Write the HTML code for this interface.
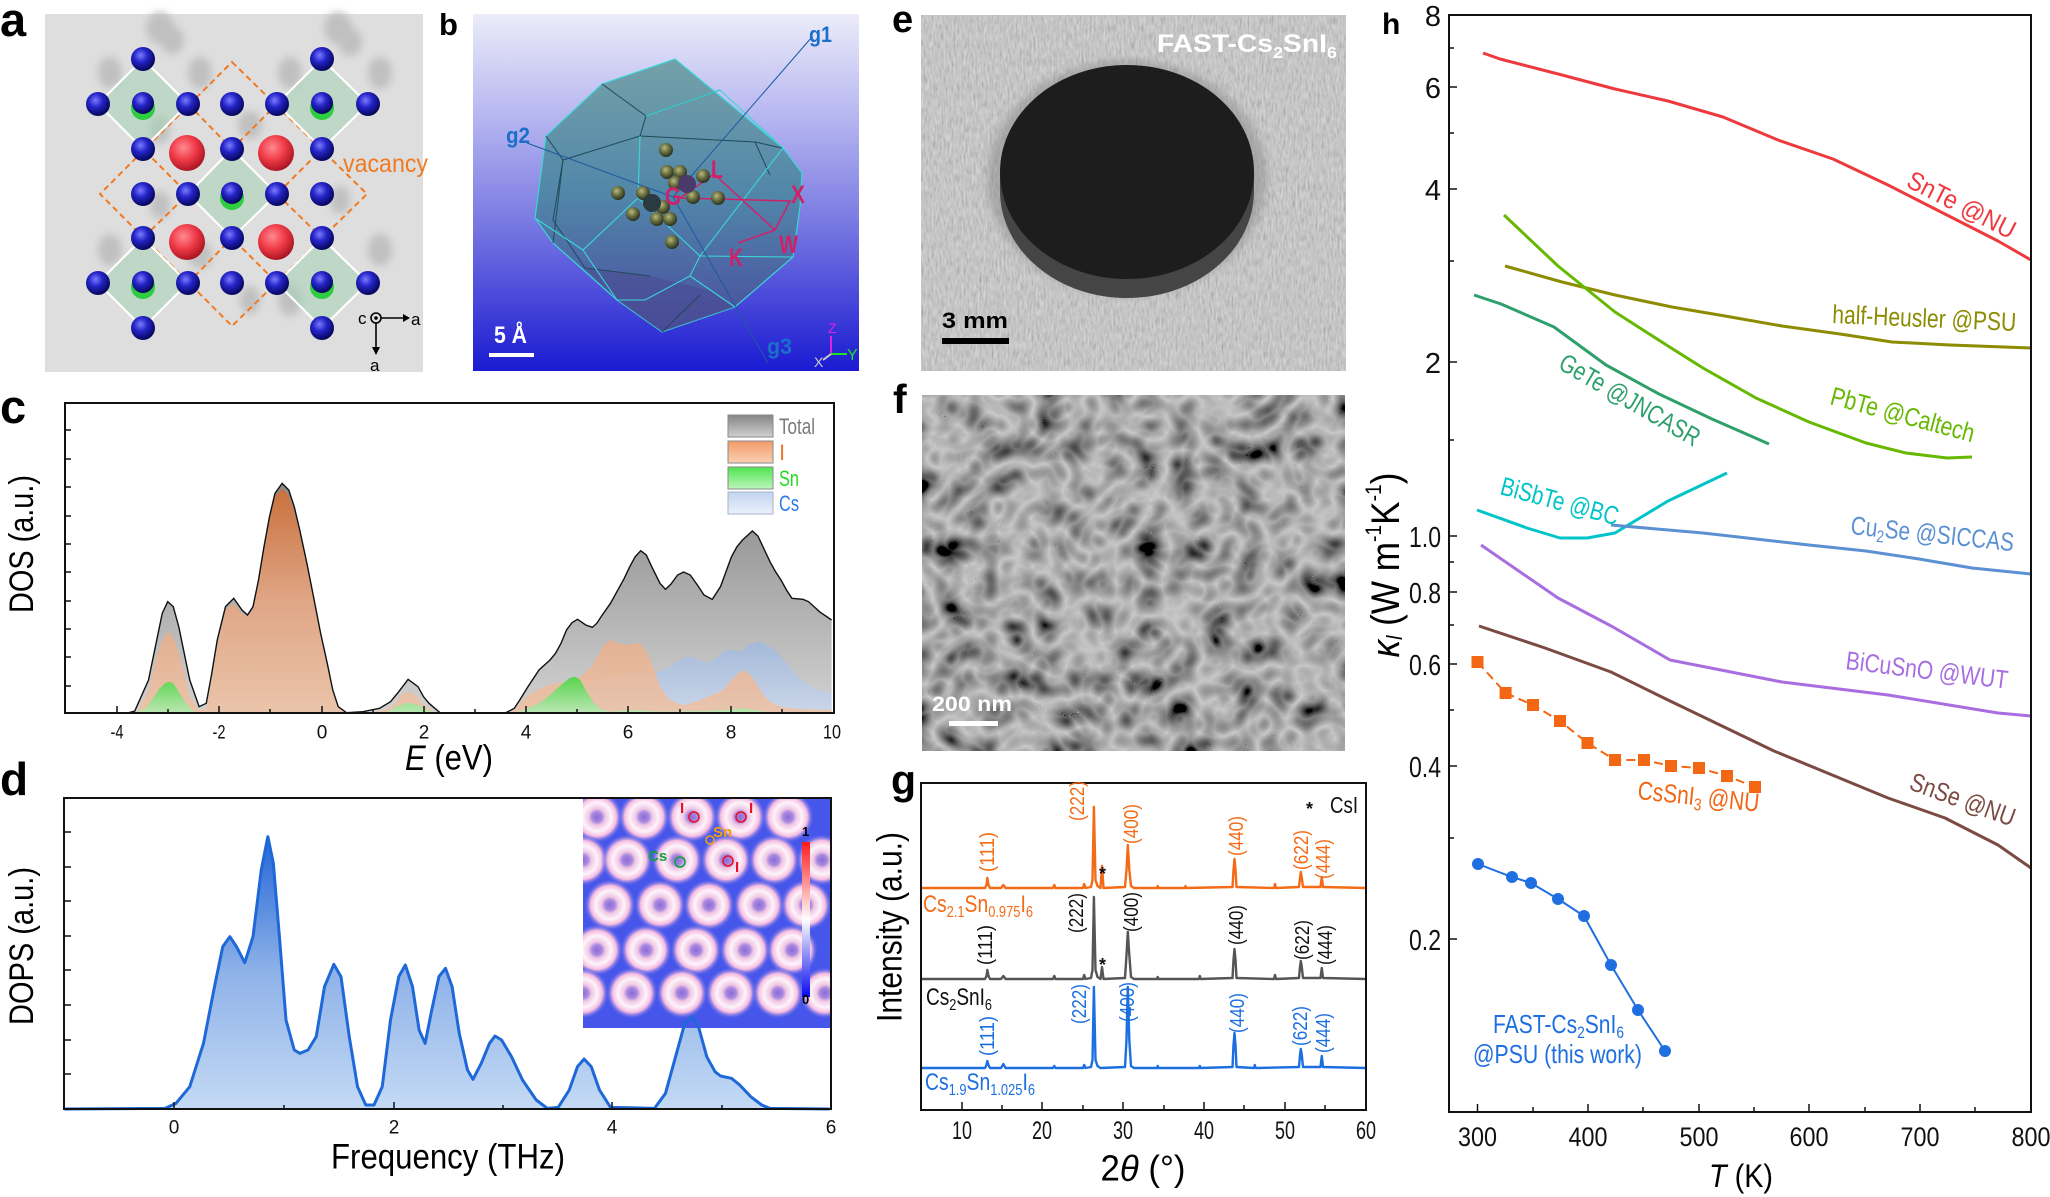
<!DOCTYPE html>
<html><head><meta charset="utf-8"><style>
html,body{margin:0;padding:0;background:#fff;}
svg{display:block;}
text{font-family:"Liberation Sans",sans-serif;}
</style></head><body>
<svg width="2050" height="1197" viewBox="0 0 2050 1197" xmlns="http://www.w3.org/2000/svg">
<defs>
<linearGradient id="bgB" x1="0" y1="0" x2="0" y2="1"><stop offset="0" stop-color="#ececfa"/><stop offset="0.3" stop-color="#b4b4f0"/><stop offset="0.6" stop-color="#7676e2"/><stop offset="1" stop-color="#1a1ad2"/></linearGradient>
<linearGradient id="poly" x1="0" y1="0" x2="0" y2="1"><stop offset="0" stop-color="#6f9ea4"/><stop offset="0.5" stop-color="#4e86a6"/><stop offset="1" stop-color="#4a4e9c"/></linearGradient>
<linearGradient id="gTot" x1="0" y1="0" x2="0" y2="1"><stop offset="0" stop-color="#8a8a8a"/><stop offset="1" stop-color="#d2d2d2"/></linearGradient>
<linearGradient id="gI" x1="0" y1="0" x2="0" y2="1"><stop offset="0" stop-color="#d46c30"/><stop offset="0.5" stop-color="#e8a47e"/><stop offset="1" stop-color="#efc2a4"/></linearGradient>
<linearGradient id="gSn" x1="0" y1="0" x2="0" y2="1"><stop offset="0" stop-color="#3ed83e"/><stop offset="1" stop-color="#b4ecb4"/></linearGradient>
<linearGradient id="gCs" x1="0" y1="0" x2="0" y2="1"><stop offset="0" stop-color="#9cb8e4"/><stop offset="1" stop-color="#c8d8f0"/></linearGradient>
<linearGradient id="gD" x1="0" y1="0" x2="0" y2="1"><stop offset="0" stop-color="#2266d8"/><stop offset="0.5" stop-color="#8fb2e8"/><stop offset="1" stop-color="#c4daf5"/></linearGradient>
<linearGradient id="lgT" x1="0" y1="0" x2="0" y2="1"><stop offset="0" stop-color="#858585"/><stop offset="1" stop-color="#d0d0d0"/></linearGradient>
<linearGradient id="lgI" x1="0" y1="0" x2="0" y2="1"><stop offset="0" stop-color="#f49a68"/><stop offset="1" stop-color="#f8d0b4"/></linearGradient>
<linearGradient id="lgS" x1="0" y1="0" x2="0" y2="1"><stop offset="0" stop-color="#4ee44e"/><stop offset="1" stop-color="#bcf6bc"/></linearGradient>
<linearGradient id="lgC" x1="0" y1="0" x2="0" y2="1"><stop offset="0" stop-color="#c2d4f0"/><stop offset="1" stop-color="#eaf1fc"/></linearGradient>
<linearGradient id="cbar" x1="0" y1="0" x2="0" y2="1"><stop offset="0" stop-color="#ff1a1a"/><stop offset="0.5" stop-color="#ffffff"/><stop offset="1" stop-color="#0808f0"/></linearGradient>
<radialGradient id="aB" cx="0.4" cy="0.35" r="0.65"><stop offset="0" stop-color="#7b7bff"/><stop offset="0.45" stop-color="#2424c8"/><stop offset="1" stop-color="#06065a"/></radialGradient>
<radialGradient id="aR" cx="0.4" cy="0.35" r="0.7"><stop offset="0" stop-color="#ff8a90"/><stop offset="0.5" stop-color="#f03a48"/><stop offset="1" stop-color="#a0101c"/></radialGradient>
<radialGradient id="aBall" cx="0.4" cy="0.35" r="0.65"><stop offset="0" stop-color="#b8b880"/><stop offset="0.5" stop-color="#6a7040"/><stop offset="1" stop-color="#2a3020"/></radialGradient>
<radialGradient id="blob" cx="0.5" cy="0.5" r="0.5"><stop offset="0" stop-color="#8c6ad6"/><stop offset="0.2" stop-color="#a98ae0"/><stop offset="0.32" stop-color="#f0c6e4"/><stop offset="0.55" stop-color="#fdf4fb"/><stop offset="0.75" stop-color="#f6bce0"/><stop offset="1" stop-color="#4c5cec" stop-opacity="0"/></radialGradient>
<filter id="blur4" x="-50%" y="-50%" width="200%" height="200%"><feGaussianBlur stdDeviation="4"/></filter>
<filter id="paper" x="0" y="0" width="100%" height="100%"><feTurbulence type="fractalNoise" baseFrequency="0.5 0.12" numOctaves="2" seed="5"/><feColorMatrix type="matrix" values="0.7 0.7 0.7 0 -0.35  0.7 0.7 0.7 0 -0.35  0.7 0.7 0.7 0 -0.35  0 0 0 0 0.35"/></filter>
<filter id="sem" x="0" y="0" width="100%" height="100%"><feTurbulence type="turbulence" baseFrequency="0.03" numOctaves="2" seed="8"/><feColorMatrix type="matrix" values="-0.9 0 0 0 0.58  -0.9 0 0 0 0.58  -0.9 0 0 0 0.58  0 0 0 0 1"/></filter>
<clipPath id="clipInset"><rect x="583" y="798" width="248" height="230"/></clipPath>
<clipPath id="clipB"><rect x="473" y="14" width="386" height="357"/></clipPath>
</defs>

<!-- ================= PANEL LETTERS ================= -->
<g font-weight="bold" fill="#000">
<text x="0" y="36" font-size="47">a</text>
<text x="439" y="35" font-size="31">b</text>
<text x="0" y="423" font-size="47">c</text>
<text x="0" y="795" font-size="46">d</text>
<text x="892" y="32" font-size="38">e</text>
<text x="893" y="413" font-size="41">f</text>
<text x="891" y="794" font-size="41">g</text>
<text x="1382" y="34" font-size="30">h</text>
</g>

<!-- ================= PANEL A ================= -->
<rect x="45" y="14" width="378" height="358" fill="#dedede"/>
<g fill="#bdbdbd" filter="url(#blur4)" opacity="0.9">
<ellipse cx="160" cy="28" rx="14" ry="16"/><ellipse cx="172" cy="40" rx="12" ry="14"/>
<ellipse cx="338" cy="28" rx="14" ry="16"/><ellipse cx="350" cy="42" rx="12" ry="14"/>
<ellipse cx="110" cy="73" rx="12" ry="16"/><ellipse cx="200" cy="73" rx="12" ry="16"/>
<ellipse cx="290" cy="73" rx="12" ry="16"/><ellipse cx="380" cy="73" rx="12" ry="16"/>
<ellipse cx="160" cy="130" rx="10" ry="14"/><ellipse cx="250" cy="125" rx="12" ry="14"/>
<ellipse cx="340" cy="200" rx="10" ry="14"/><ellipse cx="160" cy="205" rx="10" ry="14"/>
<ellipse cx="110" cy="250" rx="12" ry="16"/><ellipse cx="200" cy="255" rx="12" ry="14"/>
<ellipse cx="290" cy="300" rx="12" ry="16"/><ellipse cx="380" cy="250" rx="12" ry="16"/>
<ellipse cx="250" cy="300" rx="10" ry="14"/>
</g>
<g fill="none" stroke="#f07a22" stroke-width="2" stroke-dasharray="6,4">
<polygon points="232,62 367,194 232,326 100,194"/>
<polygon points="188,104 232,149 188,194 143,149"/>
<polygon points="277,104 322,149 277,194 232,149"/>
<polygon points="188,194 232,238 188,283 143,238"/>
<polygon points="277,194 322,238 277,283 232,238"/>
</g>
<g fill="#a8d2b6" fill-opacity="0.6" stroke="#fff" stroke-width="2.2">
<polygon points="143,59 188,104 143,149 98,104"/>
<polygon points="322,59 368,104 322,149 277,104"/>
<polygon points="232,149 277,194 232,238 188,194"/>
<polygon points="143,238 188,283 143,328 98,283"/>
<polygon points="322,238 368,283 322,328 277,283"/>
</g>
<g fill="#2ecc40">
<circle cx="143" cy="108" r="12"/><circle cx="322" cy="108" r="12"/><circle cx="232" cy="198" r="12"/><circle cx="143" cy="287" r="12"/><circle cx="322" cy="287" r="12"/>
</g>
<g fill="url(#aR)">
<circle cx="187" cy="153" r="18"/><circle cx="276" cy="153" r="18"/><circle cx="187" cy="242" r="18"/><circle cx="276" cy="242" r="18"/>
</g>
<g fill="url(#aB)">
<circle cx="143" cy="59" r="12"/><circle cx="322" cy="59" r="12"/>
<circle cx="98" cy="104" r="12"/><circle cx="143" cy="103" r="11"/><circle cx="188" cy="104" r="12"/><circle cx="232" cy="104" r="12"/><circle cx="277" cy="104" r="12"/><circle cx="322" cy="103" r="11"/><circle cx="368" cy="104" r="12"/>
<circle cx="143" cy="149" r="12"/><circle cx="232" cy="149" r="12"/><circle cx="322" cy="149" r="12"/>
<circle cx="143" cy="194" r="12"/><circle cx="188" cy="194" r="12"/><circle cx="232" cy="193" r="11"/><circle cx="277" cy="194" r="12"/><circle cx="322" cy="194" r="12"/>
<circle cx="143" cy="238" r="12"/><circle cx="232" cy="238" r="12"/><circle cx="322" cy="238" r="12"/>
<circle cx="98" cy="283" r="12"/><circle cx="143" cy="282" r="11"/><circle cx="188" cy="283" r="12"/><circle cx="232" cy="283" r="12"/><circle cx="277" cy="283" r="12"/><circle cx="322" cy="282" r="11"/><circle cx="368" cy="283" r="12"/>
<circle cx="143" cy="328" r="12"/><circle cx="322" cy="328" r="12"/>
</g>
<text x="343" y="172" font-size="25" fill="#f07a22" textLength="85" lengthAdjust="spacingAndGlyphs">vacancy</text>
<g stroke="#000" stroke-width="1.6" fill="none">
<circle cx="376" cy="318" r="5"/><line x1="381" y1="318" x2="403" y2="318"/><line x1="376" y1="323" x2="376" y2="348"/>
</g>
<circle cx="376" cy="318" r="1.8" fill="#000"/>
<polygon points="403,314 410,318 403,322" fill="#000"/><polygon points="372,347 376,355 380,347" fill="#000"/>
<text x="358" y="324" font-size="17">c</text><text x="411" y="325" font-size="17">a</text><text x="370" y="371" font-size="17">a</text>

<!-- ================= PANEL B ================= -->
<rect x="473" y="14" width="386" height="357" fill="url(#bgB)"/>
<g clip-path="url(#clipB)">
<polygon points="675,59 783,148 802,173 800,207 793,257 735,307 662,332 617,300 553,243 535,218 546,136 602,84" fill="url(#poly)" fill-opacity="0.95" stroke="#3ad6d6" stroke-width="1.2"/>
<polygon points="617,300 662,332 735,307 708,290 650,276 585,268" fill="#4a4890" fill-opacity="0.5"/>
<g stroke="#1f4a5a" stroke-width="1" fill="none">
<polyline points="602,84 646,116 720,90"/><polyline points="646,116 640,136 563,160 546,136"/>
<polyline points="563,160 553,243"/><polyline points="640,136 755,142 782,148"/>
<polyline points="755,142 770,175"/><polyline points="563,160 553,220 585,268 650,276"/>
<polyline points="700,295 662,332"/>
</g>
<g stroke="#3ad6d6" stroke-width="1.1" fill="none">
<polyline points="646,116 720,90 783,148"/><polyline points="640,136 638,198 583,250 535,218"/>
<polyline points="638,198 700,256 783,148"/><polyline points="700,256 690,276 645,300 617,300"/>
<polyline points="583,250 617,300"/><polyline points="690,276 735,307"/>
<polyline points="700,256 793,257"/>
</g>
<g stroke="#1e5aa0" stroke-width="1" fill="none">
<line x1="673" y1="197" x2="812" y2="37"/><line x1="673" y1="197" x2="527" y2="143"/><line x1="673" y1="197" x2="768" y2="363"/>
</g>
<g stroke="#d0206a" stroke-width="1.5" fill="none">
<polyline points="680,198 790,201 775,230 738,243"/><line x1="680" y1="198" x2="714" y2="174"/><line x1="714" y1="174" x2="775" y2="230"/>
</g>
<g fill="url(#aBall)">
<circle cx="666" cy="150" r="7"/><circle cx="667" cy="172" r="7"/><circle cx="680" cy="172" r="7"/><circle cx="703" cy="176" r="7"/>
<circle cx="675" cy="183" r="7"/><circle cx="693" cy="197" r="7"/><circle cx="718" cy="198" r="7"/><circle cx="618" cy="193" r="7"/>
<circle cx="643" cy="193" r="7"/><circle cx="663" cy="207" r="7"/><circle cx="633" cy="214" r="7"/><circle cx="657" cy="219" r="7"/>
<circle cx="670" cy="219" r="7"/><circle cx="672" cy="242" r="7"/>
</g>
<circle cx="687" cy="184" r="9" fill="#4a3a6a"/><circle cx="652" cy="203" r="9" fill="#2a3a40"/>
</g>
<g font-weight="bold" fill="#d0206a" font-size="25">
<text x="711" y="178" textLength="12" lengthAdjust="spacingAndGlyphs">L</text>
<text x="665" y="205" textLength="16" lengthAdjust="spacingAndGlyphs">G</text>
<text x="791" y="203" textLength="14" lengthAdjust="spacingAndGlyphs">X</text>
<text x="779" y="253" textLength="19" lengthAdjust="spacingAndGlyphs">W</text>
<text x="729" y="266" textLength="14" lengthAdjust="spacingAndGlyphs">K</text>
</g>
<g font-weight="bold" fill="#1a70c8" font-size="22">
<text x="809" y="42" textLength="23" lengthAdjust="spacingAndGlyphs">g1</text>
<text x="506" y="143" textLength="24" lengthAdjust="spacingAndGlyphs">g2</text>
<text x="767" y="354" textLength="25" lengthAdjust="spacingAndGlyphs">g3</text>
</g>
<text x="494" y="343" font-size="24" font-weight="bold" fill="#fff" textLength="33" lengthAdjust="spacingAndGlyphs">5 Å</text>
<rect x="489" y="353" width="45" height="4" fill="#fff"/>
<line x1="831" y1="354" x2="831" y2="336" stroke="#e020e0" stroke-width="2"/>
<line x1="831" y1="354" x2="847" y2="354" stroke="#20e020" stroke-width="2"/>
<line x1="831" y1="354" x2="823" y2="360" stroke="#ccc" stroke-width="2"/>
<text x="828" y="333" font-size="14" fill="#e020e0">Z</text>
<text x="847" y="360" font-size="16" fill="#20e020">Y</text>
<text x="814" y="367" font-size="14" fill="#ccc">X</text>

<!-- ================= PANEL C ================= -->
<g transform="translate(0,380) scale(0.55,0.33333)">
<polygon fill="url(#gTot)" points="118,1000 230,1000 245,993 270,900 285,780 295,700 305,665 315,680 325,740 345,900 362,980 375,970 385,880 395,780 410,680 425,655 440,690 450,705 460,680 470,600 480,500 490,410 500,340 513,310 525,330 535,380 545,450 558,550 570,650 583,760 595,850 605,930 615,980 630,998 660,995 690,985 710,965 725,935 742,898 760,920 770,950 780,970 800,998 860,1000 920,998 935,985 945,960 960,920 980,870 1000,840 1010,820 1020,790 1030,750 1040,728 1050,718 1065,735 1077,742 1085,730 1095,705 1110,670 1120,640 1135,595 1145,560 1155,530 1165,512 1175,525 1185,560 1200,610 1210,628 1220,612 1232,585 1243,576 1255,585 1268,615 1280,645 1295,658 1310,620 1320,575 1330,530 1340,500 1350,480 1368,453 1378,468 1390,510 1400,545 1410,575 1420,600 1430,630 1440,655 1460,658 1470,665 1480,680 1490,695 1512,720 1512,1000"/>
<polygon fill="url(#gCs)" fill-opacity="0.75" points="940,1000 960,985 990,965 1020,945 1050,925 1080,905 1100,895 1130,885 1150,880 1180,885 1200,875 1220,858 1240,835 1255,830 1270,840 1285,848 1300,838 1315,815 1328,808 1345,815 1362,795 1380,785 1395,795 1410,810 1425,840 1440,870 1460,905 1480,925 1500,935 1512,940 1512,1000"/>
<polygon fill="url(#gI)" fill-opacity="0.85" points="230,1000 250,995 270,930 285,830 295,780 307,752 320,790 335,880 345,950 362,990 375,985 385,900 395,800 410,690 425,670 440,700 450,710 460,690 470,610 480,515 490,420 500,350 513,325 525,345 535,395 545,460 558,560 570,660 583,770 595,860 605,935 615,985 630,1000 680,998 700,990 715,975 730,945 742,935 755,945 770,975 790,996 800,1000 920,1000 935,990 950,960 970,935 990,920 1010,910 1030,905 1050,895 1060,885 1075,860 1090,820 1100,790 1112,780 1125,790 1140,795 1155,790 1165,790 1175,815 1185,850 1200,920 1215,955 1230,970 1245,975 1265,965 1280,955 1295,945 1310,935 1320,920 1335,890 1350,870 1362,880 1375,910 1390,950 1405,970 1420,980 1440,985 1470,988 1512,990 1512,1000"/>
<polygon fill="url(#gSn)" fill-opacity="0.85" points="245,1000 265,985 280,950 290,925 300,910 307,905 315,910 325,935 340,975 355,998 365,1000 690,1000 705,995 720,980 742,968 760,975 780,992 795,1000 930,1000 945,995 960,985 980,970 1000,945 1020,915 1035,895 1045,890 1055,900 1065,930 1080,970 1095,990 1110,995 1150,990 1200,995 1280,993 1320,990 1350,985 1365,988 1390,995 1420,997 1512,997 1512,1000"/>
<polyline fill="none" stroke="#111" stroke-width="1.4" vector-effect="non-scaling-stroke" points="118,1000 230,1000 245,993 270,900 285,780 295,700 305,665 315,680 325,740 345,900 362,980 375,970 385,880 395,780 410,680 425,655 440,690 450,705 460,680 470,600 480,500 490,410 500,340 513,310 525,330 535,380 545,450 558,550 570,650 583,760 595,850 605,930 615,980 630,998 660,995 690,985 710,965 725,935 742,898 760,920 770,950 780,970 800,998 860,1000 920,998 935,985 945,960 960,920 980,870 1000,840 1010,820 1020,790 1030,750 1040,728 1050,718 1065,735 1077,742 1085,730 1095,705 1110,670 1120,640 1135,595 1145,560 1155,530 1165,512 1175,525 1185,560 1200,610 1210,628 1220,612 1232,585 1243,576 1255,585 1268,615 1280,645 1295,658 1310,620 1320,575 1330,530 1340,500 1350,480 1368,453 1378,468 1390,510 1400,545 1410,575 1420,600 1430,630 1440,655 1460,658 1470,665 1480,680 1490,695 1512,720"/>
</g>
<rect x="65" y="403" width="769" height="310" fill="none" stroke="#111" stroke-width="2"/>
<g stroke="#111" stroke-width="1.5">
<line x1="65" y1="430" x2="71" y2="430"/><line x1="65" y1="459" x2="71" y2="459"/><line x1="65" y1="487" x2="71" y2="487"/><line x1="65" y1="516" x2="71" y2="516"/><line x1="65" y1="544" x2="71" y2="544"/><line x1="65" y1="572" x2="71" y2="572"/><line x1="65" y1="601" x2="71" y2="601"/><line x1="65" y1="629" x2="71" y2="629"/><line x1="65" y1="657" x2="71" y2="657"/><line x1="65" y1="686" x2="71" y2="686"/>
<line x1="117" y1="713" x2="117" y2="706"/><line x1="219" y1="713" x2="219" y2="706"/><line x1="322" y1="713" x2="322" y2="706"/><line x1="424" y1="713" x2="424" y2="706"/><line x1="526" y1="713" x2="526" y2="706"/><line x1="628" y1="713" x2="628" y2="706"/><line x1="731" y1="713" x2="731" y2="706"/>
<line x1="168" y1="713" x2="168" y2="709"/><line x1="270" y1="713" x2="270" y2="709"/><line x1="373" y1="713" x2="373" y2="709"/><line x1="475" y1="713" x2="475" y2="709"/><line x1="577" y1="713" x2="577" y2="709"/><line x1="680" y1="713" x2="680" y2="709"/><line x1="782" y1="713" x2="782" y2="709"/>
</g>
<g font-size="19" text-anchor="middle" dominant-baseline="central" fill="#111">
<text x="117" y="733" textLength="13" lengthAdjust="spacingAndGlyphs">-4</text>
<text x="219" y="733" textLength="13" lengthAdjust="spacingAndGlyphs">-2</text>
<text x="322" y="733">0</text><text x="424" y="733">2</text><text x="526" y="733">4</text><text x="628" y="733">6</text><text x="731" y="733">8</text>
<text x="832" y="733" textLength="18" lengthAdjust="spacingAndGlyphs">10</text>
</g>
<text x="449" y="758" font-size="35" text-anchor="middle" dominant-baseline="central" textLength="88" lengthAdjust="spacingAndGlyphs"><tspan font-style="italic">E</tspan> (eV)</text>
<text transform="translate(22,544) rotate(-90)" font-size="34" text-anchor="middle" dominant-baseline="central" textLength="138" lengthAdjust="spacingAndGlyphs">DOS (a.u.)</text>
<rect x="728" y="415" width="45" height="22" fill="url(#lgT)" stroke="#8a8a8a" stroke-width="1"/>
<rect x="728" y="441" width="45" height="22" fill="url(#lgI)" stroke="#8a8a8a" stroke-width="1"/>
<rect x="728" y="467" width="45" height="22" fill="url(#lgS)" stroke="#8a8a8a" stroke-width="1"/>
<rect x="728" y="492" width="45" height="22" fill="url(#lgC)" stroke="#a8b4c8" stroke-width="1"/>
<g font-size="22">
<text x="779" y="434" fill="#7a7a7a" textLength="36" lengthAdjust="spacingAndGlyphs">Total</text>
<text x="779" y="460" fill="#f07a30">I</text>
<text x="779" y="486" fill="#22dd22" textLength="20" lengthAdjust="spacingAndGlyphs">Sn</text>
<text x="779" y="511" fill="#2a7ae8" textLength="20" lengthAdjust="spacingAndGlyphs">Cs</text>
</g>

<!-- ================= PANEL D ================= -->
<g transform="translate(0,770) scale(0.55,0.33333)">
<polygon fill="url(#gD)" points="117,1017 300,1015 320,1000 345,950 370,820 390,650 405,530 418,500 430,530 445,578 460,500 475,300 487,200 497,280 508,500 520,750 535,840 545,850 560,840 575,800 590,650 607,583 620,620 635,800 650,950 665,1005 680,1005 695,950 710,750 725,620 737,585 750,650 762,780 773,820 785,720 798,620 810,595 822,650 835,790 850,900 860,928 875,880 890,820 900,798 912,810 930,860 950,930 975,990 995,1015 1015,1012 1035,960 1050,890 1062,867 1075,890 1090,960 1110,1012 1190,1015 1210,970 1230,850 1245,760 1258,740 1270,770 1285,860 1300,905 1310,918 1330,925 1345,945 1365,980 1385,1005 1400,1015 1508,1017"/>
</g>
<g clip-path="url(#clipInset)">
<rect x="583" y="798" width="248" height="230" fill="#4656ea"/>
<g fill="url(#blob)">
<circle cx="597" cy="817" r="26"/><circle cx="644" cy="817" r="26"/><circle cx="692" cy="817" r="26"/><circle cx="740" cy="817" r="26"/><circle cx="788" cy="817" r="26"/>
<circle cx="583" cy="860" r="26"/><circle cx="627" cy="860" r="26"/><circle cx="677" cy="860" r="26"/><circle cx="726" cy="860" r="26"/><circle cx="774" cy="860" r="26"/><circle cx="822" cy="860" r="26"/>
<circle cx="610" cy="905" r="26"/><circle cx="660" cy="905" r="26"/><circle cx="709" cy="905" r="26"/><circle cx="759" cy="905" r="26"/><circle cx="806" cy="905" r="26"/>
<circle cx="597" cy="950" r="26"/><circle cx="646" cy="950" r="26"/><circle cx="696" cy="950" r="26"/><circle cx="745" cy="950" r="26"/><circle cx="792" cy="950" r="26"/>
<circle cx="583" cy="993" r="26"/><circle cx="632" cy="993" r="26"/><circle cx="682" cy="993" r="26"/><circle cx="731" cy="993" r="26"/><circle cx="778" cy="993" r="26"/><circle cx="825" cy="993" r="26"/>
</g>
<rect x="802" y="842" width="8" height="155" fill="url(#cbar)"/>
<g fill="none" stroke-width="1.6">
<circle cx="694" cy="817" r="5" stroke="#e8102a"/><circle cx="741" cy="817" r="5" stroke="#e8102a"/>
<circle cx="728" cy="861" r="5" stroke="#e8102a"/><circle cx="710" cy="840" r="4" stroke="#f0a010"/><circle cx="680" cy="862" r="5" stroke="#10a040"/>
</g>
<g font-weight="bold" font-size="15">
<text x="680" y="813" fill="#e8102a">I</text><text x="749" y="813" fill="#e8102a">I</text><text x="735" y="872" fill="#e8102a">I</text>
<text x="713" y="837" fill="#f0a010">Sn</text><text x="648" y="861" fill="#10a040">Cs</text>
<text x="802" y="836" font-size="13" fill="#000">1</text><text x="802" y="1004" font-size="13" fill="#000">0</text>
</g>
</g>
<g transform="translate(0,770) scale(0.55,0.33333)">
<polyline fill="none" stroke="#1f68d8" stroke-width="3" stroke-linejoin="round" vector-effect="non-scaling-stroke" points="117,1017 300,1015 320,1000 345,950 370,820 390,650 405,530 418,500 430,530 445,578 460,500 475,300 487,200 497,280 508,500 520,750 535,840 545,850 560,840 575,800 590,650 607,583 620,620 635,800 650,950 665,1005 680,1005 695,950 710,750 725,620 737,585 750,650 762,780 773,820 785,720 798,620 810,595 822,650 835,790 850,900 860,928 875,880 890,820 900,798 912,810 930,860 950,930 975,990 995,1015 1015,1012 1035,960 1050,890 1062,867 1075,890 1090,960 1110,1012 1190,1015 1210,970 1230,850 1245,760 1258,740 1270,770 1285,860 1300,905 1310,918 1330,925 1345,945 1365,980 1385,1005 1400,1015 1508,1017"/>
</g>
<rect x="64" y="798" width="767" height="311" fill="none" stroke="#111" stroke-width="2"/>
<g stroke="#111" stroke-width="1.5">
<line x1="64" y1="832" x2="71" y2="832"/><line x1="64" y1="867" x2="71" y2="867"/><line x1="64" y1="901" x2="71" y2="901"/><line x1="64" y1="936" x2="71" y2="936"/><line x1="64" y1="970" x2="71" y2="970"/><line x1="64" y1="1005" x2="71" y2="1005"/><line x1="64" y1="1040" x2="71" y2="1040"/><line x1="64" y1="1074" x2="71" y2="1074"/>
<line x1="174" y1="1109" x2="174" y2="1102"/><line x1="394" y1="1109" x2="394" y2="1102"/><line x1="612" y1="1109" x2="612" y2="1102"/>
<line x1="284" y1="1109" x2="284" y2="1105"/><line x1="503" y1="1109" x2="503" y2="1105"/><line x1="722" y1="1109" x2="722" y2="1105"/>
</g>
<g font-size="19" text-anchor="middle" dominant-baseline="central" fill="#111">
<text x="174" y="1128">0</text><text x="394" y="1128">2</text><text x="612" y="1128">4</text><text x="831" y="1128">6</text>
</g>
<text x="448" y="1157" font-size="35" text-anchor="middle" dominant-baseline="central" textLength="234" lengthAdjust="spacingAndGlyphs">Frequency (THz)</text>
<text transform="translate(22,946) rotate(-90)" font-size="34" text-anchor="middle" dominant-baseline="central" textLength="158" lengthAdjust="spacingAndGlyphs">DOPS (a.u.)</text>

<!-- ================= PANEL E ================= -->
<rect x="921" y="15" width="425" height="356" fill="#b9b9b9"/>
<rect x="921" y="15" width="425" height="356" filter="url(#paper)"/>
<ellipse cx="1127" cy="178" rx="140" ry="118" fill="#8a8a8a" opacity="0.5" filter="url(#blur4)"/>
<ellipse cx="1127" cy="191" rx="127" ry="107" fill="#454545"/>
<rect x="1000" y="172" width="254" height="19" fill="#454545"/>
<ellipse cx="1127" cy="172" rx="127" ry="107" fill="#1d1d1d"/>
<text x="1157" y="52" font-size="25" font-weight="bold" fill="#fff" textLength="180" lengthAdjust="spacingAndGlyphs">FAST-Cs<tspan font-size="16" dy="6">2</tspan><tspan dy="-6">SnI</tspan><tspan font-size="16" dy="6">6</tspan></text>
<text x="942" y="328" font-size="22" font-weight="bold" fill="#000" textLength="66" lengthAdjust="spacingAndGlyphs">3 mm</text>
<rect x="942" y="338" width="67" height="6" fill="#000"/>

<!-- ================= PANEL F ================= -->
<rect x="922" y="395" width="423" height="356" fill="#777"/>
<rect x="922" y="395" width="423" height="356" filter="url(#sem)"/>
<text x="932" y="711" font-size="21" font-weight="bold" fill="#fff" textLength="80" lengthAdjust="spacingAndGlyphs">200 nm</text>
<rect x="949" y="721" width="49" height="5" fill="#fff"/>

<!-- ================= PANEL G ================= -->
<g fill="none" stroke-width="2.4" stroke-linejoin="round">
<path stroke="#f36b16" d="M921,888 L985,888 L986.5,885 L987.3,878 L988.5,885 L990,888 L1001,888 L1003.4,885 L1005.5,888 L1053,888 L1054.3,885 L1055.5,888 L1083,888 L1084.2,884 L1085.5,888 L1091,887 L1092.5,880 L1093.9,807 L1095.5,880 L1097.5,886 L1100.5,888 L1102,866 L1103.5,888 L1125,887 L1126.5,870 L1127.8,845 L1129.3,870 L1131,886 L1134,888 L1157,888 L1157.7,886 L1158.5,888 L1185,888 L1185.5,886 L1186,888 L1232.5,887 L1233.5,870 L1234.5,859 L1235.5,870 L1236.5,887 L1274,888 L1275,884 L1276,888 L1299,887 L1300,878 L1300.8,872 L1301.8,878 L1303,887 L1320.5,887 L1321.8,877 L1323,887 L1366,888"/>
<path stroke="#555" d="M921,979 L985,979 L986.5,976 L987.3,970 L988.5,976 L990,979 L1001,979 L1003.4,976 L1005.5,979 L1053,979 L1054.3,976 L1055.5,979 L1083,979 L1084.2,975 L1085.5,979 L1091,978 L1092.5,970 L1093.9,897 L1095.5,970 L1097.5,977 L1100.5,979 L1102,967 L1103.5,979 L1125,978 L1126.5,955 L1127.8,932 L1129.3,955 L1131,977 L1134,979 L1157,979 L1157.7,977 L1158.5,979 L1199,979 L1199.8,976 L1200.6,979 L1232.5,978 L1233.5,960 L1234.5,949 L1235.5,960 L1236.5,978 L1274,979 L1275,975 L1276,979 L1299,978 L1300,967 L1300.8,961 L1301.8,967 L1303,978 L1320.5,978 L1321.8,968 L1323,978 L1366,979"/>
<path stroke="#1b6fe0" d="M921,1068 L985,1068 L986.5,1065 L987.3,1061 L988.5,1065 L990,1068 L1001,1068 L1003.4,1064 L1005.5,1068 L1053,1068 L1054.3,1066 L1055.5,1068 L1083,1068 L1084.2,1065 L1085.5,1068 L1091,1067 L1092.5,1060 L1093.9,987 L1095.5,1060 L1097.5,1066 L1100.5,1068 L1125,1067 L1126.5,1040 L1127.8,987 L1129.3,1040 L1131,1066 L1134,1068 L1157,1068 L1157.7,1066 L1158.5,1068 L1199,1068 L1199.8,1066 L1200.6,1068 L1232.5,1067 L1233.5,1045 L1234.5,1033 L1235.5,1045 L1236.5,1067 L1254,1068 L1254.8,1065 L1255.6,1068 L1299,1067 L1300,1055 L1300.8,1049 L1301.8,1055 L1303,1067 L1320.5,1067 L1321.8,1056 L1323,1067 L1366,1068"/>
</g>
<rect x="921" y="783" width="445" height="327" fill="none" stroke="#111" stroke-width="2"/>
<g stroke="#111" stroke-width="1.5">
<line x1="962" y1="1110" x2="962" y2="1102"/><line x1="1042" y1="1110" x2="1042" y2="1102"/><line x1="1123" y1="1110" x2="1123" y2="1102"/><line x1="1204" y1="1110" x2="1204" y2="1102"/><line x1="1285" y1="1110" x2="1285" y2="1102"/>
<line x1="1002" y1="1110" x2="1002" y2="1105"/><line x1="1083" y1="1110" x2="1083" y2="1105"/><line x1="1164" y1="1110" x2="1164" y2="1105"/><line x1="1244" y1="1110" x2="1244" y2="1105"/><line x1="1325" y1="1110" x2="1325" y2="1105"/>
</g>
<g font-size="25" text-anchor="middle" dominant-baseline="central" fill="#111">
<text x="962" y="1131" textLength="20" lengthAdjust="spacingAndGlyphs">10</text>
<text x="1042" y="1131" textLength="20" lengthAdjust="spacingAndGlyphs">20</text>
<text x="1123" y="1131" textLength="20" lengthAdjust="spacingAndGlyphs">30</text>
<text x="1204" y="1131" textLength="20" lengthAdjust="spacingAndGlyphs">40</text>
<text x="1285" y="1131" textLength="20" lengthAdjust="spacingAndGlyphs">50</text>
<text x="1366" y="1131" textLength="20" lengthAdjust="spacingAndGlyphs">60</text>
</g>
<text x="1143" y="1168" font-size="36" text-anchor="middle" dominant-baseline="central" textLength="85" lengthAdjust="spacingAndGlyphs">2<tspan font-style="italic">θ</tspan> (°)</text>
<text transform="translate(890,927) rotate(-90)" font-size="35" text-anchor="middle" dominant-baseline="central" textLength="190" lengthAdjust="spacingAndGlyphs">Intensity (a.u.)</text>
<g font-size="20" text-anchor="middle" dominant-baseline="central">
<g fill="#f36b16">
<text transform="translate(988,852) rotate(-90)" textLength="40" lengthAdjust="spacingAndGlyphs">(111)</text>
<text transform="translate(1078,801) rotate(-90)" textLength="40" lengthAdjust="spacingAndGlyphs">(222)</text>
<text transform="translate(1132,824) rotate(-90)" textLength="40" lengthAdjust="spacingAndGlyphs">(400)</text>
<text transform="translate(1237,836) rotate(-90)" textLength="40" lengthAdjust="spacingAndGlyphs">(440)</text>
<text transform="translate(1302,850) rotate(-90)" textLength="40" lengthAdjust="spacingAndGlyphs">(622)</text>
<text transform="translate(1324,859) rotate(-90)" textLength="40" lengthAdjust="spacingAndGlyphs">(444)</text>
</g>
<g fill="#111">
<text transform="translate(986,945) rotate(-90)" textLength="40" lengthAdjust="spacingAndGlyphs">(111)</text>
<text transform="translate(1077,913) rotate(-90)" textLength="40" lengthAdjust="spacingAndGlyphs">(222)</text>
<text transform="translate(1132,912) rotate(-90)" textLength="40" lengthAdjust="spacingAndGlyphs">(400)</text>
<text transform="translate(1237,925) rotate(-90)" textLength="40" lengthAdjust="spacingAndGlyphs">(440)</text>
<text transform="translate(1303,940) rotate(-90)" textLength="40" lengthAdjust="spacingAndGlyphs">(622)</text>
<text transform="translate(1326,945) rotate(-90)" textLength="40" lengthAdjust="spacingAndGlyphs">(444)</text>
</g>
<g fill="#1b6fe0">
<text transform="translate(988,1036) rotate(-90)" textLength="40" lengthAdjust="spacingAndGlyphs">(111)</text>
<text transform="translate(1080,1004) rotate(-90)" textLength="40" lengthAdjust="spacingAndGlyphs">(222)</text>
<text transform="translate(1128,1002) rotate(-90)" textLength="40" lengthAdjust="spacingAndGlyphs">(400)</text>
<text transform="translate(1238,1013) rotate(-90)" textLength="40" lengthAdjust="spacingAndGlyphs">(440)</text>
<text transform="translate(1301,1026) rotate(-90)" textLength="40" lengthAdjust="spacingAndGlyphs">(622)</text>
<text transform="translate(1324,1033) rotate(-90)" textLength="40" lengthAdjust="spacingAndGlyphs">(444)</text>
</g>
</g>
<g font-weight="bold" font-size="18" fill="#111"><text x="1099" y="880">*</text><text x="1099" y="971">*</text><text x="1306" y="815">*</text></g>
<text x="1330" y="813" font-size="23" fill="#111" textLength="28" lengthAdjust="spacingAndGlyphs">CsI</text>
<text x="923" y="912" font-size="24" fill="#f36b16" textLength="110" lengthAdjust="spacingAndGlyphs">Cs<tspan font-size="16" dy="5">2.1</tspan><tspan dy="-5">Sn</tspan><tspan font-size="16" dy="5">0.975</tspan><tspan dy="-5">I</tspan><tspan font-size="16" dy="5">6</tspan></text>
<text x="926" y="1005" font-size="24" fill="#111" textLength="66" lengthAdjust="spacingAndGlyphs">Cs<tspan font-size="16" dy="5">2</tspan><tspan dy="-5">SnI</tspan><tspan font-size="16" dy="5">6</tspan></text>
<text x="925" y="1090" font-size="24" fill="#1b6fe0" textLength="110" lengthAdjust="spacingAndGlyphs">Cs<tspan font-size="16" dy="5">1.9</tspan><tspan dy="-5">Sn</tspan><tspan font-size="16" dy="5">1.025</tspan><tspan dy="-5">I</tspan><tspan font-size="16" dy="5">6</tspan></text>

<!-- ================= PANEL H ================= -->
<g fill="none" stroke-width="3" stroke-linejoin="round">
<polyline stroke="#ee3a3e" points="1483,53 1500,59 1562,75 1615,89 1668,101 1723,117 1778,140 1833,159 1888,185 1941,212 1998,241 2031,260"/>
<polyline stroke="#8c8c00" points="1505,266 1562,282 1615,295 1672,307 1725,316 1782,326 1840,334 1892,342 1950,345 2031,348"/>
<polyline stroke="#66b800" points="1504,215 1558,266 1615,312 1668,346 1703,368 1756,398 1809,422 1866,443 1906,453 1947,458 1972,457"/>
<polyline stroke="#2ea06c" points="1474,295 1501,304 1554,327 1606,365 1659,394 1712,419 1769,444"/>
<polyline stroke="#00c4c8" points="1477,510 1527,528 1560,538 1587,538 1615,533 1668,501 1727,473"/>
<polyline stroke="#5b90d2" points="1611,525 1703,533 1809,545 1866,551 1919,559 1972,568 2031,574"/>
<polyline stroke="#a86ee0" points="1481,545 1558,598 1613,627 1670,660 1782,682 1888,695 1998,713 2031,716"/>
<polyline stroke="#7b4a42" points="1479,626 1545,648 1611,672 1668,700 1774,751 1888,798 1945,818 1998,845 2031,868"/>
</g>
<polyline fill="none" stroke="#f26614" stroke-width="2" stroke-dasharray="9,5" points="1477.5,662 1505.6,693 1533,705 1560,721 1587.5,743 1615,760 1644,760 1671,766 1699,768 1727,776 1755,787"/>
<g fill="#f26614">
<rect x="1471.5" y="656" width="12" height="12"/><rect x="1499.6" y="687" width="12" height="12"/><rect x="1527" y="699" width="12" height="12"/><rect x="1554" y="715" width="12" height="12"/><rect x="1581.5" y="737" width="12" height="12"/><rect x="1609" y="754" width="12" height="12"/><rect x="1638" y="754" width="12" height="12"/><rect x="1665" y="760" width="12" height="12"/><rect x="1693" y="762" width="12" height="12"/><rect x="1721" y="770" width="12" height="12"/><rect x="1749" y="781" width="12" height="12"/>
</g>
<polyline fill="none" stroke="#1f6fe0" stroke-width="2" points="1478,864 1512,877 1531,883 1558,899 1584,916 1611,965 1638,1010 1665,1051"/>
<g fill="#1f6fe0">
<circle cx="1478" cy="864" r="6"/><circle cx="1512" cy="877" r="6"/><circle cx="1531" cy="883" r="6"/><circle cx="1558" cy="899" r="6"/><circle cx="1584" cy="916" r="6"/><circle cx="1611" cy="965" r="6"/><circle cx="1638" cy="1010" r="6"/><circle cx="1665" cy="1051" r="6"/>
</g>
<rect x="1449" y="15" width="582" height="1097" fill="none" stroke="#111" stroke-width="2"/>
<g stroke="#111" stroke-width="1.5">
<line x1="1449" y1="15" x2="1457" y2="15"/><line x1="1449" y1="87" x2="1457" y2="87"/><line x1="1449" y1="189" x2="1457" y2="189"/><line x1="1449" y1="362" x2="1457" y2="362"/><line x1="1449" y1="536" x2="1457" y2="536"/><line x1="1449" y1="592" x2="1457" y2="592"/><line x1="1449" y1="664" x2="1457" y2="664"/><line x1="1449" y1="766" x2="1457" y2="766"/><line x1="1449" y1="939" x2="1457" y2="939"/>
<line x1="1449" y1="48" x2="1454" y2="48"/><line x1="1449" y1="133" x2="1454" y2="133"/><line x1="1449" y1="261" x2="1454" y2="261"/><line x1="1449" y1="440" x2="1454" y2="440"/><line x1="1449" y1="562" x2="1454" y2="562"/><line x1="1449" y1="625" x2="1454" y2="625"/><line x1="1449" y1="710" x2="1454" y2="710"/><line x1="1449" y1="838" x2="1454" y2="838"/>
<line x1="1477.5" y1="1112" x2="1477.5" y2="1104"/><line x1="1588" y1="1112" x2="1588" y2="1104"/><line x1="1699" y1="1112" x2="1699" y2="1104"/><line x1="1809" y1="1112" x2="1809" y2="1104"/><line x1="1920" y1="1112" x2="1920" y2="1104"/>
<line x1="1533" y1="1112" x2="1533" y2="1107"/><line x1="1643" y1="1112" x2="1643" y2="1107"/><line x1="1754" y1="1112" x2="1754" y2="1107"/><line x1="1865" y1="1112" x2="1865" y2="1107"/><line x1="1975" y1="1112" x2="1975" y2="1107"/>
</g>
<g font-size="29" text-anchor="end" dominant-baseline="central" fill="#111">
<text x="1441" y="17">8</text><text x="1441" y="89">6</text><text x="1441" y="191">4</text><text x="1441" y="364">2</text>
<text x="1441" y="538" textLength="32" lengthAdjust="spacingAndGlyphs">1.0</text>
<text x="1441" y="594" textLength="32" lengthAdjust="spacingAndGlyphs">0.8</text>
<text x="1441" y="666" textLength="32" lengthAdjust="spacingAndGlyphs">0.6</text>
<text x="1441" y="768" textLength="32" lengthAdjust="spacingAndGlyphs">0.4</text>
<text x="1441" y="941" textLength="32" lengthAdjust="spacingAndGlyphs">0.2</text>
</g>
<g font-size="27" text-anchor="middle" dominant-baseline="central" fill="#111">
<text x="1477.5" y="1137" textLength="39" lengthAdjust="spacingAndGlyphs">300</text>
<text x="1588" y="1137" textLength="39" lengthAdjust="spacingAndGlyphs">400</text>
<text x="1699" y="1137" textLength="39" lengthAdjust="spacingAndGlyphs">500</text>
<text x="1809" y="1137" textLength="39" lengthAdjust="spacingAndGlyphs">600</text>
<text x="1920" y="1137" textLength="39" lengthAdjust="spacingAndGlyphs">700</text>
<text x="2031" y="1137" textLength="39" lengthAdjust="spacingAndGlyphs">800</text>
</g>
<text x="1741" y="1176" font-size="32" text-anchor="middle" dominant-baseline="central" textLength="64" lengthAdjust="spacingAndGlyphs"><tspan font-style="italic">T</tspan> (K)</text>
<text transform="translate(1386,565) rotate(-90)" font-size="40" text-anchor="middle" dominant-baseline="central" textLength="185" lengthAdjust="spacingAndGlyphs"><tspan font-style="italic">κ</tspan><tspan font-size="22" dy="8" font-style="italic">l</tspan><tspan dy="-8"> (W m</tspan><tspan font-size="22" dy="-13">-1</tspan><tspan dy="13">K</tspan><tspan font-size="22" dy="-13">-1</tspan><tspan dy="13">)</tspan></text>
<g font-size="26">
<text transform="translate(1905,186) rotate(27)" fill="#ee3a3e" textLength="118" lengthAdjust="spacingAndGlyphs">SnTe @NU</text>
<text transform="translate(1832,323) rotate(2.5)" fill="#8c8c00" textLength="184" lengthAdjust="spacingAndGlyphs">half-Heusler @PSU</text>
<text transform="translate(1829,404) rotate(15)" fill="#66b800" textLength="148" lengthAdjust="spacingAndGlyphs">PbTe @Caltech</text>
<text transform="translate(1557,368) rotate(30)" fill="#2ea06c" textLength="158" lengthAdjust="spacingAndGlyphs">GeTe @JNCASR</text>
<text transform="translate(1499,494) rotate(15)" fill="#00c4c8" textLength="121" lengthAdjust="spacingAndGlyphs">BiSbTe @BC</text>
<text transform="translate(1850,534) rotate(6)" fill="#5b90d2" textLength="164" lengthAdjust="spacingAndGlyphs">Cu<tspan font-size="17" dy="5">2</tspan><tspan dy="-5">Se @SICCAS</tspan></text>
<text transform="translate(1845,669) rotate(7)" fill="#a86ee0" textLength="163" lengthAdjust="spacingAndGlyphs">BiCuSnO @WUT</text>
<text transform="translate(1908,789) rotate(20)" fill="#7b4a42" textLength="110" lengthAdjust="spacingAndGlyphs">SnSe @NU</text>
<text transform="translate(1637,799) rotate(6)" fill="#f26614" textLength="122" lengthAdjust="spacingAndGlyphs">CsSnI<tspan font-size="17" dy="5">3</tspan><tspan dy="-5"> @NU</tspan></text>
<text x="1493" y="1033" fill="#1f6fe0" textLength="131" lengthAdjust="spacingAndGlyphs">FAST-Cs<tspan font-size="17" dy="5">2</tspan><tspan dy="-5">SnI</tspan><tspan font-size="17" dy="5">6</tspan></text>
<text x="1473" y="1063" fill="#1f6fe0" textLength="169" lengthAdjust="spacingAndGlyphs">@PSU (this work)</text>
</g>
</svg>
</body></html>
